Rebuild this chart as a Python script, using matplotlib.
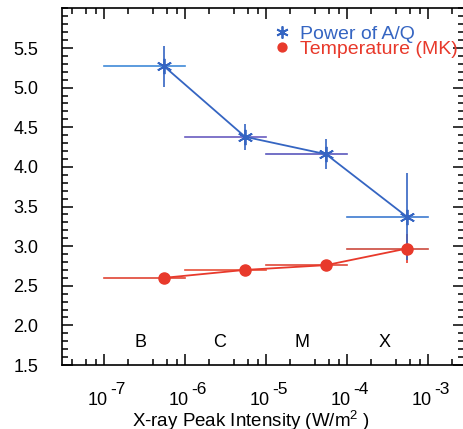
import numpy as np
import matplotlib.pyplot as plt
import matplotlib.transforms as mtransforms
from matplotlib.ticker import FixedLocator, FuncFormatter, MultipleLocator, NullFormatter

plt.rcParams['font.family'] = ['Liberation Sans', 'DejaVu Sans']
plt.rcParams['mathtext.fontset'] = 'custom'
plt.rcParams['mathtext.rm'] = 'Liberation Sans'
plt.rcParams['mathtext.it'] = 'Liberation Sans'

# flare classes
classes = ['B', 'C', 'M', 'X']
x_center = [5.5e-7, 5.5e-6, 5.5e-5, 5.5e-4]
x_lo = [1e-7, 1e-6, 1e-5, 1e-4]
x_hi = [1e-6, 1e-5, 1e-4, 1e-3]
class_label_x = [2.8e-7, 2.7e-6, 2.8e-5, 2.9e-4]

# power of A/Q
power = [5.27, 4.38, 4.16, 3.37]
power_err = [0.26, 0.165, 0.19, 0.55]

# temperature (MK)
temp = [2.60, 2.70, 2.76, 2.97]
temp_err = [0.02, 0.03, 0.03, 0.18]

# x tick decades
decades = [-7, -6, -5, -4, -3]

blue = '#3565c2'
red = '#e8392b'
blue_hbar = ['#3f8ad8', '#6a5cc0', '#5a58bc', '#3d7ad0']
red_hbar = ['#e04434', '#e8503a', '#e04838', '#cc4a3e']

fig = plt.figure(figsize=(4.64, 4.29), dpi=100)
ax = fig.add_axes([62 / 464, 64 / 429, 402 / 464, 357 / 429])
ax.set_xscale('log')

# horizontal bars (class ranges)
for i in range(len(classes)):
    ax.plot([x_lo[i], x_hi[i]], [temp[i], temp[i]], color=red_hbar[i], lw=1.2, zorder=2)
    ax.plot([x_lo[i], x_hi[i]], [power[i], power[i]], color=blue_hbar[i], lw=1.2, zorder=2)

ax.errorbar(x_center, temp, yerr=temp_err, fmt='none', ecolor=red, elinewidth=1.2, zorder=3)
ax.errorbar(x_center, power, yerr=power_err, fmt='none', ecolor=blue, elinewidth=1.2, zorder=3)

ax.plot(x_center, temp, color=red, lw=1.3, marker='o', ms=8, mec=red, mfc=red,
        label='Temperature (MK)', zorder=4)
ax.plot(x_center, power, color=blue, lw=1.3, marker=(6, 2, 0), ms=11, mew=1.3,
        label='Power of A/Q', zorder=5)

for cx, c in zip(class_label_x, classes):
    ax.text(cx, 1.78, c, fontsize=13, ha='center', va='center')

ax.set_xlim(10 ** -7.52, 10 ** -2.556)
ax.set_ylim(1.5, 6.005)

ax.xaxis.set_major_locator(FixedLocator([10.0 ** e for e in decades]))
ax.xaxis.set_minor_locator(FixedLocator([m * 10.0 ** e for e in range(-8, -2) for m in (2, 4, 6, 8)]))
ax.xaxis.set_major_formatter(NullFormatter())
ax.xaxis.set_minor_formatter(NullFormatter())
ax.set_yticks([1.5, 2.0, 2.5, 3.0, 3.5, 4.0, 4.5, 5.0, 5.5])
ax.yaxis.set_minor_locator(MultipleLocator(0.1))
ax.yaxis.set_major_formatter(FuncFormatter(lambda v, p: '%.1f' % v))

# x tick labels: "10" with a large exponent
trans = ax.get_xaxis_transform()
for e in decades:
    t1 = trans + mtransforms.ScaledTranslation(4 / 100, 0, fig.dpi_scale_trans)
    ax.text(10.0 ** e, -0.111, '10', transform=t1, fontsize=13, ha='right', va='baseline')
    t2 = trans + mtransforms.ScaledTranslation(6 / 100, 0, fig.dpi_scale_trans)
    ax.text(10.0 ** e, -0.082, '-%d' % abs(e), transform=t2, fontsize=12.5,
            ha='left', va='baseline')

ax.tick_params(which='both', direction='in', top=True, right=True, width=1.1)
ax.tick_params(which='major', length=8)
ax.tick_params(which='minor', length=4.5)
ax.tick_params(axis='y', labelsize=13, pad=17)
for s in ax.spines.values():
    s.set_linewidth(1.2)

ax.set_xlabel(r'X-ray Peak Intensity (W/m$^2$ )', fontsize=13.5)
ax.xaxis.set_label_coords(0.47, -0.122)
ax.xaxis.label.set_va('top')

h, l = ax.get_legend_handles_labels()
leg = ax.legend(h[::-1], l[::-1], loc='upper left', bbox_to_anchor=(0.495, 0.99), frameon=False,
                fontsize=14, handlelength=0.75, handletextpad=0.55, labelspacing=-0.12,
                borderaxespad=0.3, markerscale=0.8)
for t, c in zip(leg.get_texts(), [blue, red]):
    t.set_color(c)
for lh in leg.get_lines():
    lh.set_linestyle('none')

fig.savefig('out.png', dpi=100)
